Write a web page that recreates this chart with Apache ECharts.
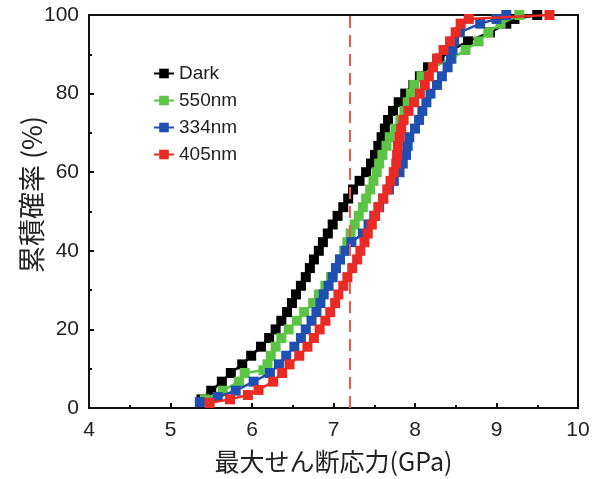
<!DOCTYPE html>
<html>
<head>
<meta charset="utf-8">
<script src="https://cdn.jsdelivr.net/npm/echarts@6/dist/echarts.min.js"></script>
<style>
  html, body { margin: 0; padding: 0; background: #fff; }
  #main { width: 599px; height: 479px; }
</style>
</head>
<body>
<div id="main"></div>
<script>
// [stress (GPa), cumulative probability (%)]
var darkData = [
  [5.38, 2.2], [5.50, 4.4], [5.63, 6.7], [5.74, 8.9], [5.88, 11.1], [5.99, 13.3], [6.11, 15.6],
  [6.21, 17.8], [6.29, 20.0], [6.36, 22.2], [6.43, 24.4], [6.49, 26.7], [6.54, 28.9], [6.60, 31.1],
  [6.66, 33.3], [6.71, 35.6], [6.76, 37.8], [6.82, 40.0], [6.87, 42.2], [6.93, 44.4], [6.99, 46.7],
  [7.05, 48.9], [7.12, 51.1], [7.18, 53.3], [7.24, 55.6], [7.32, 57.8], [7.40, 60.0], [7.46, 62.2],
  [7.51, 64.4], [7.55, 66.7], [7.59, 68.9], [7.63, 71.1], [7.67, 73.3], [7.73, 75.6], [7.80, 77.8],
  [7.88, 80.0], [7.98, 82.2], [8.06, 84.4], [8.16, 86.7], [8.30, 88.9], [8.45, 91.1], [8.65, 93.3],
  [8.92, 95.6], [9.12, 97.8], [9.22, 99.0], [9.50, 100]
]
var green550 = [
  [5.42, 2.2], [5.64, 4.4], [5.84, 6.7], [5.91, 8.9], [6.14, 9.6], [6.19, 11.1], [6.23, 13.3],
  [6.29, 15.6], [6.36, 17.8], [6.45, 20.0], [6.55, 22.2], [6.64, 24.4], [6.75, 26.7], [6.82, 28.9],
  [6.90, 31.1], [6.97, 33.3], [7.03, 35.6], [7.08, 37.8], [7.13, 40.0], [7.17, 42.2], [7.21, 44.4],
  [7.26, 46.7], [7.31, 48.9], [7.36, 51.1], [7.40, 53.3], [7.45, 55.6], [7.49, 57.8], [7.53, 60.0],
  [7.56, 62.2], [7.60, 64.4], [7.65, 66.7], [7.69, 68.9], [7.76, 71.1], [7.82, 73.3], [7.87, 75.6],
  [7.91, 77.8], [7.95, 80.0], [7.99, 82.2], [8.08, 84.4], [8.22, 86.7], [8.45, 88.9], [8.62, 91.1],
  [8.78, 93.3], [8.90, 95.6], [9.05, 97.8], [9.28, 100]
]
var blue334 = [
  [5.36, 1.5], [5.58, 2.8], [5.80, 4.4], [6.02, 6.7], [6.22, 8.9], [6.33, 11.1], [6.42, 13.3],
  [6.52, 15.6], [6.60, 17.8], [6.66, 20.0], [6.73, 22.2], [6.79, 24.4], [6.84, 26.7], [6.88, 28.9],
  [6.94, 31.1], [6.99, 33.3], [7.03, 35.6], [7.08, 37.8], [7.15, 40.0], [7.22, 42.2], [7.36, 44.4],
  [7.43, 46.7], [7.50, 48.9], [7.56, 51.1], [7.61, 53.3], [7.68, 55.6], [7.74, 57.8], [7.81, 60.0],
  [7.85, 62.2], [7.89, 64.4], [7.91, 66.7], [7.93, 68.9], [8.00, 71.1], [8.05, 73.3], [8.09, 75.6],
  [8.14, 77.8], [8.19, 80.0], [8.27, 82.2], [8.33, 84.4], [8.40, 86.7], [8.44, 88.9], [8.46, 91.1],
  [8.48, 93.3], [8.55, 95.6], [8.80, 97.8], [9.00, 99.0], [9.12, 100]
]
var red405 = [
  [5.48, 1.3], [5.73, 2.2], [5.95, 3.3], [6.08, 4.6], [6.26, 6.7], [6.37, 8.9], [6.46, 11.1],
  [6.58, 13.3], [6.68, 15.6], [6.76, 17.8], [6.83, 20.0], [6.90, 22.2], [6.96, 24.4], [7.02, 26.7],
  [7.06, 28.9], [7.12, 31.1], [7.17, 33.3], [7.23, 35.6], [7.29, 37.8], [7.33, 40.0], [7.38, 42.2],
  [7.42, 44.4], [7.47, 46.7], [7.51, 48.9], [7.55, 51.1], [7.61, 53.3], [7.66, 55.6], [7.70, 57.8],
  [7.74, 60.0], [7.77, 62.2], [7.78, 64.4], [7.79, 66.7], [7.81, 68.9], [7.83, 71.1], [7.86, 73.3],
  [7.92, 75.6], [7.99, 77.8], [8.06, 80.0], [8.12, 82.2], [8.17, 84.4], [8.22, 86.7], [8.27, 88.9],
  [8.35, 91.1], [8.43, 93.3], [8.50, 95.6], [8.56, 97.8], [8.66, 99.0], [9.65, 100]
]
var seriesNames = ["Dark", "550nm", "334nm", "405nm"]
var seriesColors = ["#000000", "#5cc444", "#1f4fb0", "#ea2a24"]
var thresholdStress = 7.2

var latin = "Liberation Sans, Arial, sans-serif"
var cjk = "Noto Sans CJK JP, sans-serif"

var chartDom = document.getElementById("main")
var myChart = echarts.init(chartDom, null, { renderer: "canvas" })

function makeSeries(idx, data) {
  return {
    name: seriesNames[idx],
    type: "line",
    data: data,
    symbol: "rect",
    symbolSize: 10,
    showAllSymbol: true,
    color: seriesColors[idx],
    lineStyle: { width: 2.5, color: seriesColors[idx] },
    itemStyle: { color: seriesColors[idx] },
    animation: false,
    z: 2 + idx,
  }
}

var series = [
  makeSeries(0, darkData),
  makeSeries(1, green550),
  makeSeries(2, blue334),
  makeSeries(3, red405),
]
// dashed reference line
series[3].markLine = {
  silent: true,
  symbol: "none",
  label: { show: false },
  lineStyle: { type: [12, 7], color: "#ee5a50", width: 2 },
  data: [{ xAxis: thresholdStress }],
  animation: false,
}

var option = {
  backgroundColor: "#fff",
  animation: false,
  grid: {
    left: 89, right: 21, top: 15, bottom: 71,
    show: true, borderColor: "#111", borderWidth: 2,
  },
  legend: {
    left: 148, top: 59, orient: "vertical",
    itemWidth: 20, itemHeight: 12, itemGap: 8,
    data: seriesNames,
    textStyle: { fontFamily: latin, fontSize: 19, color: "#222" },
  },
  xAxis: {
    type: "value", min: 4, max: 10, interval: 1,
    name: "最大せん断応力(GPa)", nameLocation: "middle", nameGap: 41,
    nameMoveOverlap: false,
    nameTextStyle: { fontFamily: cjk, fontSize: 25, color: "#222" },
    axisLine: { lineStyle: { color: "#111", width: 2 } },
    axisTick: { inside: true, length: 5, lineStyle: { color: "#111", width: 2 } },
    minorTick: { show: true, splitNumber: 2, length: 3, lineStyle: { color: "#111", width: 2 } },
    axisLabel: { fontFamily: latin, fontSize: 21, color: "#222", margin: 12 },
    splitLine: { show: false },
  },
  yAxis: {
    type: "value", min: 0, max: 100, interval: 20,
    name: "累積確率 (%)", nameLocation: "middle", nameGap: 44, nameRotate: 90,
    nameMoveOverlap: false,
    nameTextStyle: { fontFamily: cjk, fontSize: 27, color: "#222", padding: [0, 0, 0, 34] },
    axisLine: { lineStyle: { color: "#111", width: 2 } },
    axisTick: { inside: true, length: 5, lineStyle: { color: "#111", width: 2 } },
    minorTick: { show: true, splitNumber: 2, length: 3, lineStyle: { color: "#111", width: 2 } },
    axisLabel: { fontFamily: latin, fontSize: 21, color: "#222", margin: 10 },
    splitLine: { show: false },
  },
  series: series,
}

myChart.setOption(option)
</script>
</body>
</html>
